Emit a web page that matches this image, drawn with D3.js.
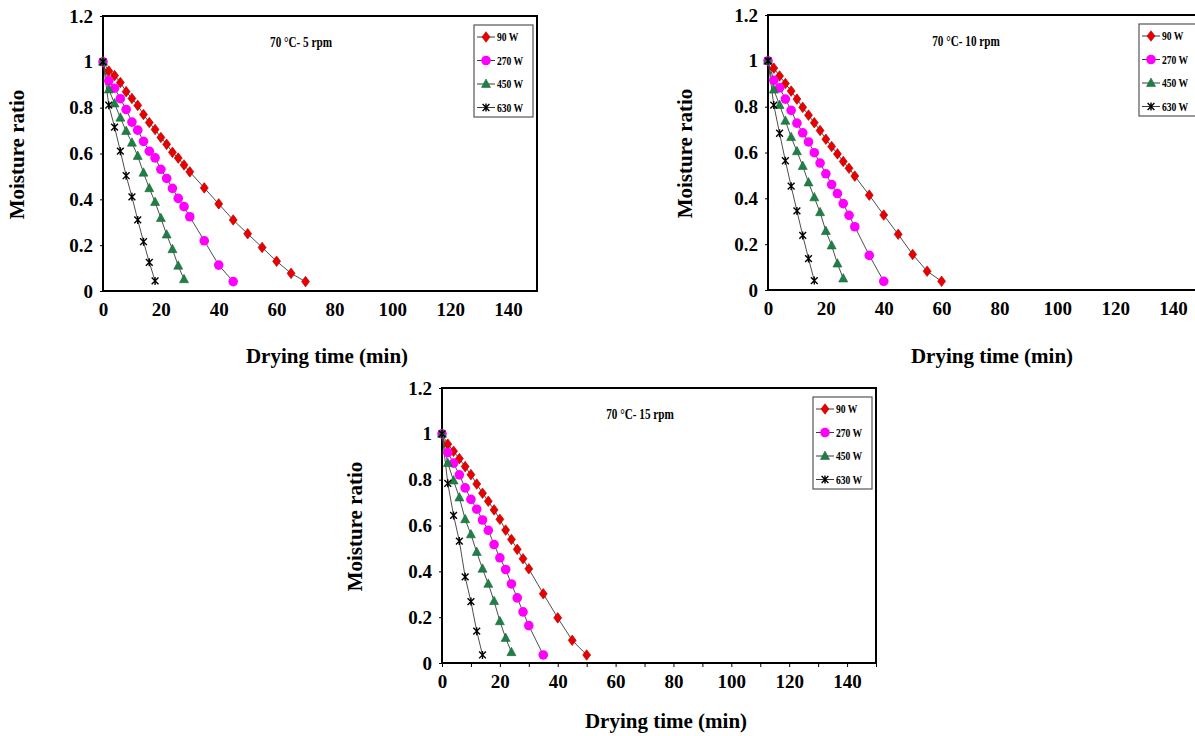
<!DOCTYPE html>
<html>
<head>
<meta charset="utf-8">
<script src="https://cdn.jsdelivr.net/npm/d3@7"></script>
<style>
  body { margin: 0; background: #fff; }
  text { font-family: "Liberation Serif", "Times New Roman", serif; font-weight: bold; fill: #000; }
  .axis-title { font-size: 21px; }
  .panel-title { font-size: 14px; }
  .legend text { font-size: 12px; }
</style>
</head>
<body>
<div id="chartContainer"></div>
<script>
// 70 °C - 5 rpm
const times5_90 = [0, 2, 4, 6, 8, 10, 12, 14, 16, 18, 20, 22, 24, 26, 28, 30, 35, 40, 45, 50, 55, 60, 65, 70];
const mr5_90 = [1.0, 0.96, 0.94, 0.91, 0.87, 0.84, 0.81, 0.77, 0.735, 0.705, 0.67, 0.64, 0.605, 0.58, 0.55, 0.52, 0.45, 0.38, 0.31, 0.25, 0.19, 0.13, 0.077, 0.041];
const times5_270 = [0, 2, 4, 6, 8, 10, 12, 14, 16, 18, 20, 22, 24, 26, 28, 30, 35, 40, 45];
const mr5_270 = [1.0, 0.917, 0.885, 0.839, 0.792, 0.737, 0.702, 0.653, 0.61, 0.581, 0.531, 0.491, 0.448, 0.404, 0.368, 0.324, 0.219, 0.113, 0.041];
const times5_450 = [0, 2, 4, 6, 8, 10, 12, 14, 16, 18, 20, 22, 24, 26, 28];
const mr5_450 = [1.0, 0.879, 0.818, 0.756, 0.698, 0.647, 0.589, 0.516, 0.448, 0.388, 0.318, 0.246, 0.182, 0.11, 0.051];
const times5_630 = [0, 2, 4, 6, 8, 10, 12, 14, 16, 18];
const mr5_630 = [1.0, 0.811, 0.715, 0.61, 0.503, 0.411, 0.31, 0.215, 0.125, 0.044];

// 70 °C - 10 rpm
const times10_90 = [0, 2, 4, 6, 8, 10, 12, 14, 16, 18, 20, 22, 24, 26, 28, 30, 35, 40, 45, 50, 55, 60];
const mr10_90 = [1.0, 0.968, 0.934, 0.901, 0.868, 0.833, 0.797, 0.763, 0.73, 0.696, 0.658, 0.626, 0.594, 0.561, 0.531, 0.497, 0.414, 0.327, 0.243, 0.155, 0.082, 0.038];
const times10_270 = [0, 2, 4, 6, 8, 10, 12, 14, 16, 18, 20, 22, 24, 26, 28, 30, 35, 40];
const mr10_270 = [1.0, 0.915, 0.882, 0.833, 0.784, 0.728, 0.686, 0.646, 0.599, 0.554, 0.507, 0.46, 0.421, 0.377, 0.326, 0.276, 0.151, 0.038];
const times10_450 = [0, 2, 4, 6, 8, 10, 12, 14, 16, 18, 20, 22, 24, 26];
const mr10_450 = [1.0, 0.874, 0.807, 0.738, 0.667, 0.605, 0.541, 0.469, 0.404, 0.339, 0.257, 0.194, 0.115, 0.05];
const times10_630 = [0, 2, 4, 6, 8, 10, 12, 14, 16];
const mr10_630 = [1.0, 0.807, 0.684, 0.564, 0.453, 0.345, 0.238, 0.137, 0.041];

// 70 °C - 15 rpm
const times15_90 = [0, 2, 4, 6, 8, 10, 12, 14, 16, 18, 20, 22, 24, 26, 28, 30, 35, 40, 45, 50];
const mr15_90 = [1.0, 0.955, 0.924, 0.892, 0.857, 0.822, 0.781, 0.741, 0.706, 0.668, 0.627, 0.58, 0.539, 0.496, 0.455, 0.411, 0.302, 0.197, 0.099, 0.035];
const times15_270 = [0, 2, 4, 6, 8, 10, 12, 14, 16, 18, 20, 22, 24, 26, 28, 30, 35];
const mr15_270 = [1.0, 0.918, 0.872, 0.821, 0.764, 0.714, 0.671, 0.624, 0.579, 0.517, 0.459, 0.408, 0.345, 0.284, 0.223, 0.163, 0.035];
const times15_450 = [0, 2, 4, 6, 8, 10, 12, 14, 16, 18, 20, 22, 24];
const mr15_450 = [1.0, 0.872, 0.796, 0.722, 0.627, 0.561, 0.484, 0.411, 0.345, 0.27, 0.182, 0.109, 0.047];
const times15_630 = [0, 2, 4, 6, 8, 10, 12, 14];
const mr15_630 = [1.0, 0.784, 0.644, 0.532, 0.376, 0.268, 0.139, 0.035];

const seriesNames = ['90 W', '270 W', '450 W', '630 W'];
const xTickLabels = [0, 20, 40, 60, 80, 100, 120, 140];
const xTickMarks = [0, 10, 20, 30, 40, 50, 60, 70, 80, 90, 100, 110, 120, 130, 140, 150];
const yTickLabels = [0, 0.2, 0.4, 0.6, 0.8, 1, 1.2];

const svgWidth = 1195;
const svgHeight = 736;
const plotWidth = 434;
const plotHeight = 275;

// marker look for each power level
const markerStyles = [
    { type: 'diamond', fill: '#e80000', stroke: '#b00000' },
    { type: 'circle', fill: '#ff00ff', stroke: '#ff00ff' },
    { type: 'triangle', fill: '#1f7f45', stroke: '#1a6a3a' },
    { type: 'star', fill: 'none', stroke: '#000' }
];

// only the bottom panel shows tick marks under the time axis
const panels = [
    { left: 103, top: 16, title: '70 °C- 5 rpm', xTitleY: 72, yTitleX: -86, xTicks: false,
      series: [[times5_90, mr5_90], [times5_270, mr5_270], [times5_450, mr5_450], [times5_630, mr5_630]] },
    { left: 768, top: 15, title: '70 °C- 10 rpm', xTitleY: 73, yTitleX: -83, xTicks: false,
      series: [[times10_90, mr10_90], [times10_270, mr10_270], [times10_450, mr10_450], [times10_630, mr10_630]] },
    { left: 442, top: 388, title: '70 °C- 15 rpm', xTitleY: 65, yTitleX: -87, xTicks: true,
      series: [[times15_90, mr15_90], [times15_270, mr15_270], [times15_450, mr15_450], [times15_630, mr15_630]] }
];

const svg = d3.select('#chartContainer')
    .append('svg')
    .attr('width', svgWidth)
    .attr('height', svgHeight);

svg.append('rect')
    .attr('width', svgWidth)
    .attr('height', svgHeight)
    .attr('fill', '#fff');

const xScale = d3.scaleLinear().domain([0, 150]).range([0, plotWidth]);
const yScale = d3.scaleLinear().domain([0, 1.2]).range([plotHeight, 0]);

function drawMarker(sel, style) {
    if (style.type === 'circle') {
        sel.append('circle').attr('r', 4.8).attr('fill', style.fill);
    } else if (style.type === 'diamond') {
        sel.append('path')
            .attr('d', 'M0,-5.3L4,0L0,5.3L-4,0Z')
            .attr('fill', style.fill)
            .attr('stroke', style.stroke)
            .attr('stroke-width', 0.6);
    } else if (style.type === 'triangle') {
        sel.append('path')
            .attr('d', 'M0,-5L4.5,3.4L-4.5,3.4Z')
            .attr('fill', style.fill)
            .attr('stroke', style.stroke)
            .attr('stroke-width', 0.6);
    } else {
        sel.append('path')
            .attr('d', 'M-3.4,-3.4L3.4,3.4M3.4,-3.4L-3.4,3.4M0,-4L0,4')
            .attr('fill', 'none')
            .attr('stroke', style.stroke)
            .attr('stroke-width', 1.4);
    }
}

panels.forEach(p => {
    const chart = svg.append('g')
        .attr('transform', `translate(${p.left}, ${p.top})`);

    // x ticks every 10, labels every 20
    const xAxis = d3.axisBottom(xScale)
        .tickValues(xTickMarks)
        .tickSize(p.xTicks ? 4 : 0)
        .tickPadding(p.xTicks ? 8 : 12)
        .tickFormat(d => xTickLabels.includes(d) ? d : '');
    chart.append('g')
        .attr('class', 'x-axis')
        .attr('transform', `translate(0, ${plotHeight})`)
        .call(xAxis);

    const yAxis = d3.axisLeft(yScale)
        .tickValues(yTickLabels)
        .tickSize(3)
        .tickPadding(7)
        .tickFormat(d => String(d));
    chart.append('g')
        .attr('class', 'y-axis')
        .call(yAxis);

    chart.selectAll('.domain').remove();
    chart.selectAll('.tick line').attr('stroke', '#000').attr('stroke-width', 1);
    chart.selectAll('.tick text')
        .attr('font-family', null)
        .attr('font-size', null)
        .style('font-family', '"Liberation Serif", "Times New Roman", serif')
        .style('font-weight', 'bold')
        .style('font-size', '19px');

    chart.append('rect')
        .attr('width', plotWidth)
        .attr('height', plotHeight)
        .attr('fill', 'none')
        .attr('stroke', '#000')
        .attr('stroke-width', 2);

    const line = d3.line()
        .x(d => xScale(d[0]))
        .y(d => yScale(d[1]));

    p.series.forEach((s, i) => {
        const pts = s[0].map((t, k) => [t, s[1][k]]);
        chart.append('path')
            .datum(pts)
            .attr('fill', 'none')
            .attr('stroke', '#3a3a3a')
            .attr('stroke-width', 0.9)
            .attr('d', line);
    });

    p.series.forEach((s, i) => {
        const pts = s[0].map((t, k) => [t, s[1][k]]);
        chart.selectAll(null)
            .data(pts)
            .enter()
            .append('g')
            .attr('transform', d => `translate(${xScale(d[0])}, ${yScale(d[1])})`)
            .each(function () { drawMarker(d3.select(this), markerStyles[i]); });
    });

    // title inside plot
    chart.append('text')
        .attr('class', 'panel-title')
        .attr('text-anchor', 'middle')
        .attr('transform', `translate(198, 31) scale(0.8, 1)`)
        .text(p.title);

    // legend
    const legend = chart.append('g')
        .attr('class', 'legend')
        .attr('transform', `translate(371, 9)`);
    legend.append('rect')
        .attr('width', 59)
        .attr('height', 92)
        .attr('fill', '#fff')
        .attr('stroke', '#555')
        .attr('stroke-width', 1.2);
    seriesNames.forEach((name, i) => {
        const row = legend.append('g')
            .attr('transform', `translate(0, ${12 + i * 23.5})`);
        row.append('line')
            .attr('x1', 3).attr('x2', 21)
            .attr('stroke', '#3a3a3a')
            .attr('stroke-width', 1);
        const m = row.append('g').attr('transform', 'translate(12, 0)');
        drawMarker(m, markerStyles[i]);
        row.append('text')
            .attr('transform', 'translate(23, 4) scale(0.8, 1)')
            .text(name);
    });

    // axis titles
    chart.append('text')
        .attr('class', 'axis-title')
        .attr('x', 224)
        .attr('y', plotHeight + p.xTitleY)
        .attr('text-anchor', 'middle')
        .text('Drying time (min)');

    chart.append('text')
        .attr('class', 'axis-title')
        .attr('transform', `translate(${p.yTitleX + 7}, ${plotHeight / 2 + 1}) rotate(-90)`)
        .attr('text-anchor', 'middle')
        .text('Moisture ratio');
});
</script>
</body>
</html>
